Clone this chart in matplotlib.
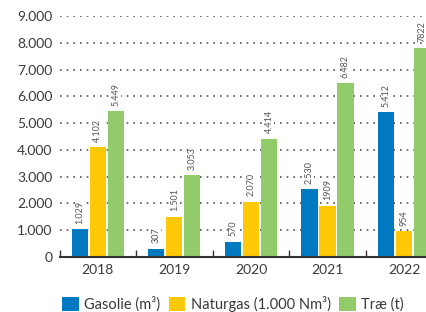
import matplotlib
matplotlib.use("Agg")
import matplotlib.pyplot as plt
from matplotlib.patches import Patch
import numpy as np

years = ["2018", "2019", "2020", "2021", "2022"]
gasolie = [1029, 307, 570, 2530, 5412]
naturgas = [4102, 1501, 2070, 1909, 954]
trae = [5449, 3053, 4414, 6482, 7822]
gasolie_lbl = ["1.029", "307", "570", "2.530", "5.412"]
naturgas_lbl = ["4.102", "1.501", "2.070", "1909", "954"]
trae_lbl = ["5.449", "3.053", "4.414", "6.482", "7822"]
series_names = ["Gasolie (m³)", "Naturgas (1.000 Nm³)", "Træ (t)"]
yticks = [0, 1000, 2000, 3000, 4000, 5000, 6000, 7000, 8000, 9000]
ytick_labels = ["0", "1.000", "2.000", "3.000", "4.000", "5.000", "6.000", "7.000", "8.000", "9.000"]

colors = ["#0079C1", "#FFC908", "#92CB6A"]
txt = "#3a3a3a"
plt.rcParams['font.family'] = ['Lato', 'DejaVu Sans']

fig = plt.figure(figsize=(4.27, 3.12), dpi=100)
ax = fig.add_axes([0.1396, 0.1763, 0.8604, 0.7724])

x = np.arange(len(years))
w = 0.21
offs = [-0.235, 0, 0.235]
for vals, lbls, c, o in zip([gasolie, naturgas, trae], [gasolie_lbl, naturgas_lbl, trae_lbl], colors, offs):
    bars = ax.bar(x + o, vals, width=w, color=c, zorder=3)
    for b, l in zip(bars, lbls):
        ax.annotate(l, (b.get_x() + b.get_width() / 2, b.get_height()),
                    xytext=(0, 4), textcoords="offset points", rotation=90,
                    ha="center", va="bottom", fontsize=6.5, color="#555555",
                    bbox=dict(facecolor="white", edgecolor="none", pad=0.2), zorder=2.5)

ax.set_ylim(0, 9000)
ax.set_xlim(-0.5, 4.3)
ax.set_yticks(yticks)
ax.set_yticklabels(ytick_labels)
ax.set_xticks(x)
ax.set_xticklabels(years)
ax.set_xticks(np.arange(-0.5, 4.5, 1), minor=True)
ax.tick_params(axis="x", which="major", length=0, labelsize=10, colors=txt, pad=5)
ax.tick_params(axis="x", which="minor", length=5, direction="in", color="#333333", width=1)
ax.tick_params(axis="y", length=0, labelsize=10, colors=txt, pad=5)
ax.yaxis.grid(True, linestyle=(0, (1, 3)), color="#555555", linewidth=1.2, zorder=0)
for s in ["left", "right", "top"]:
    ax.spines[s].set_visible(False)
ax.spines["bottom"].set_color("#333333")
ax.spines["bottom"].set_linewidth(1.5)
ax.spines["bottom"].set_zorder(4)

handles = [Patch(facecolor=c) for c in colors]
fig.legend(handles, series_names, loc="center left", bbox_to_anchor=(0.128, 0.025),
           ncol=3, frameon=False, fontsize=10.5, handlelength=1.15, handleheight=1.15,
           handletextpad=0.35, columnspacing=0.6, labelcolor=txt, borderpad=0.0)

fig.savefig("out.png", dpi=100)
